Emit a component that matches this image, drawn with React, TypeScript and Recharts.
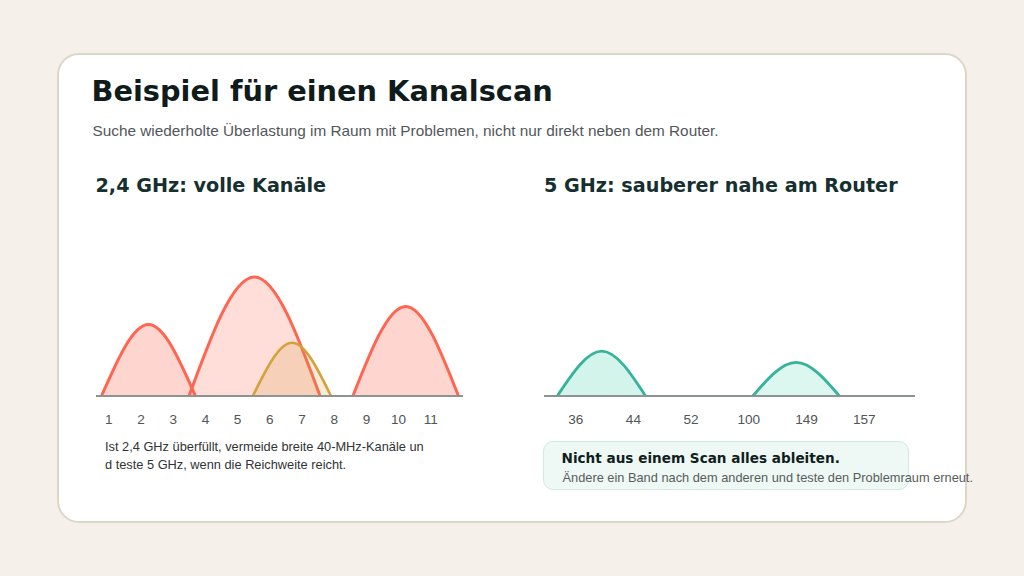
import React from 'react';
import { ComposedChart, Area, XAxis, YAxis } from 'recharts';

// 2.4 GHz band: channel numbers and the occupied channel arcs (start, peak, end)
const channels24 = [1, 2, 3, 4, 5, 6, 7, 8, 9, 10, 11];
const arc24a = [
  { x: 0.77, y: 0 },
  { x: 2.23, y: 51 },
  { x: 3.69, y: 0 },
];
const arc24b = [
  { x: 3.49, y: 0 },
  { x: 5.52, y: 85 },
  { x: 7.56, y: 0 },
];
const arc24c = [
  { x: 5.47, y: 0 },
  { x: 6.69, y: 38 },
  { x: 7.9, y: 0 },
];
const arc24d = [
  { x: 8.58, y: 0 },
  { x: 10.22, y: 64 },
  { x: 11.86, y: 0 },
];

// 5 GHz band: channel labels (index positions) and arcs
const channels5Labels = ['36', '44', '52', '100', '149', '157'];
const channels5Index = [0, 1, 2, 3, 4, 5];
const arc5a = [
  { x: -0.32, y: 0 },
  { x: 0.45, y: 32 },
  { x: 1.21, y: 0 },
];
const arc5b = [
  { x: 3.07, y: 0 },
  { x: 3.82, y: 24 },
  { x: 4.57, y: 0 },
];

const SANS = '"Liberation Sans", Arial, sans-serif';
const HEAVY = '"DejaVu Sans", sans-serif';

const RED = '#ff6550';
const GOLD = '#d3a23c';
const TEAL = '#36b39a';
const MINT = '#a6ead6';
const AXIS = '#8d9292';
const TICK = { fill: '#515656', fontSize: 13.6, fontFamily: SANS };

function abs(left: number, top: number, extra: React.CSSProperties = {}): React.CSSProperties {
  return { position: 'absolute', left, top, whiteSpace: 'nowrap', ...extra };
}

export default function App() {
  return (
    <div
      style={{
        position: 'fixed',
        left: 0,
        top: 0,
        width: 1024,
        height: 576,
        background: '#f5f1ea',
        overflow: 'hidden',
      }}
    >
      <div
        style={{
          position: 'absolute',
          left: 57,
          top: 53,
          width: 906,
          height: 466,
          background: '#ffffff',
          border: '2px solid #ddd6c8',
          borderRadius: 22,
        }}
      />
      <div
        style={abs(91.5, 77, {
          fontFamily: HEAVY,
          fontWeight: 700,
          fontSize: 28.8,
          lineHeight: '28.8px',
          color: '#101b1b',
        })}
      >
        Beispiel für einen Kanalscan
      </div>
      <div
        style={abs(92.5, 123, {
          fontFamily: SANS,
          fontSize: 15.35,
          lineHeight: '15.2px',
          color: '#52575a',
        })}
      >
        Suche wiederholte Überlastung im Raum mit Problemen, nicht nur direkt neben dem Router.
      </div>

      <div
        style={abs(95.5, 175.5, {
          fontFamily: HEAVY,
          fontWeight: 700,
          fontSize: 19.2,
          lineHeight: '19.2px',
          color: '#15302f',
        })}
      >
        2,4 GHz: volle Kanäle
      </div>
      <div
        style={abs(544, 175.5, {
          fontFamily: HEAVY,
          fontWeight: 700,
          fontSize: 19.2,
          lineHeight: '19.2px',
          color: '#15302f',
        })}
      >
        5 GHz: sauberer nahe am Router
      </div>

      <div style={{ position: 'absolute', left: 96, top: 256 }}>
        <ComposedChart width={367} height={180} margin={{ top: 0, right: 0, bottom: 0, left: 0 }}>
          <XAxis
            type="number"
            dataKey="x"
            domain={[0.6, 12]}
            ticks={channels24}
            interval={0}
            tickLine={false}
            tickMargin={12}
            axisLine={{ stroke: AXIS, strokeWidth: 2 }}
            tick={TICK}
            height={40}
          />
          <YAxis type="number" domain={[0, 100]} hide />
          <Area data={arc24a} dataKey="y" type="natural" stroke={RED} strokeWidth={3} fill={RED} fillOpacity={0.27} dot={false} activeDot={false} isAnimationActive={false} />
          <Area data={arc24b} dataKey="y" type="natural" stroke={RED} strokeWidth={3} fill={RED} fillOpacity={0.22} dot={false} activeDot={false} isAnimationActive={false} />
          <Area data={arc24c} dataKey="y" type="natural" stroke={GOLD} strokeWidth={2.6} fill={GOLD} fillOpacity={0.2} dot={false} activeDot={false} isAnimationActive={false} />
          <Area data={arc24d} dataKey="y" type="natural" stroke={RED} strokeWidth={3} fill={RED} fillOpacity={0.27} dot={false} activeDot={false} isAnimationActive={false} />
        </ComposedChart>
      </div>

      <div style={{ position: 'absolute', left: 544, top: 256 }}>
        <ComposedChart width={371} height={180} margin={{ top: 0, right: 0, bottom: 0, left: 0 }}>
          <XAxis
            type="number"
            dataKey="x"
            domain={[-0.55, 5.88]}
            ticks={channels5Index}
            interval={0}
            tickLine={false}
            tickMargin={12}
            tickFormatter={(v: number) => channels5Labels[v] ?? ''}
            axisLine={{ stroke: AXIS, strokeWidth: 2 }}
            tick={TICK}
            height={40}
          />
          <YAxis type="number" domain={[0, 100]} hide />
          <Area data={arc5a} dataKey="y" type="natural" stroke={TEAL} strokeWidth={2.8} fill={MINT} fillOpacity={0.5} dot={false} activeDot={false} isAnimationActive={false} />
          <Area data={arc5b} dataKey="y" type="natural" stroke={TEAL} strokeWidth={2.8} fill={MINT} fillOpacity={0.4} dot={false} activeDot={false} isAnimationActive={false} />
        </ComposedChart>
      </div>

      <div
        style={abs(105, 438, {
          fontFamily: SANS,
          fontSize: 12.8,
          lineHeight: '17.9px',
          color: '#303434',
        })}
      >
        Ist 2,4 GHz überfüllt, vermeide breite 40-MHz-Kanäle un
        <br />
        d teste 5 GHz, wenn die Reichweite reicht.
      </div>

      <div
        style={{
          position: 'absolute',
          left: 543,
          top: 441,
          width: 364,
          height: 47,
          background: '#eef8f4',
          border: '1px solid #d2e9e0',
          borderRadius: 10,
        }}
      />
      <div
        style={abs(561.5, 451.8, {
          fontFamily: HEAVY,
          fontWeight: 700,
          fontSize: 13.6,
          lineHeight: '13.6px',
          color: '#101e1d',
        })}
      >
        Nicht aus einem Scan alles ableiten.
      </div>
      <div
        style={abs(562.5, 471.5, {
          fontFamily: SANS,
          fontSize: 12.8,
          lineHeight: '12.8px',
          color: '#585c5c',
        })}
      >
        Ändere ein Band nach dem anderen und teste den Problemraum erneut.
      </div>
    </div>
  );
}
